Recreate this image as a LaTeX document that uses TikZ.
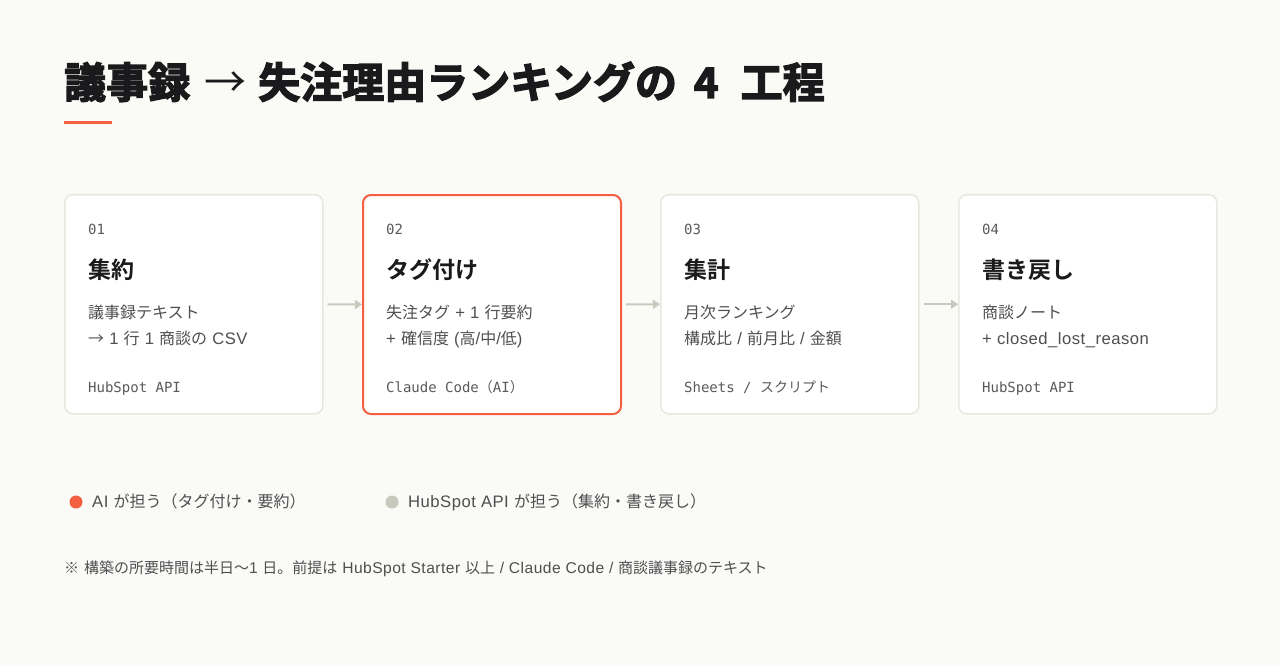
\documentclass[tikz,border=0pt]{standalone}
\usepackage{fontspec}
\setmainfont{Liberation Sans}[Scale=1.04, LetterSpace=3.0]
\newfontfamily\latf{Liberation Sans}[Scale=1.04, LetterSpace=3.0]
\newfontfamily\jpf{Noto Sans CJK JP}
\newfontfamily\jpbold{Noto Sans CJK JP}[UprightFont=* Bold]
\newfontfamily\jpheavy{Noto Sans CJK JP}[UprightFont=* Bold, FakeBold=3.2]
\newfontfamily\monof{DejaVu Sans Mono}
\usetikzlibrary{arrows.meta}
% automatic switch to the Japanese font for CJK characters
\newXeTeXintercharclass\cjkcls
\newcount\cjkc
\newcommand\cjkrange[2]{\cjkc=#1\relax
  \loop\XeTeXcharclass\cjkc=\cjkcls\relax\advance\cjkc by 1\relax
  \ifnum\cjkc<#2\relax\repeat}
\cjkrange{"2192}{"2193}
\cjkrange{"203B}{"203C}
\cjkrange{"3000}{"3100}
\cjkrange{"4E00}{"A000}
\cjkrange{"FF00}{"FFF0}
\newcommand\cjkon{\jpf}
\newcommand\cjkoff{\latf}
\newcommand\autooff{\XeTeXinterchartokenstate=0\relax}
\newcommand\monoswitch{\monof\let\cjkoff\monof}
\XeTeXinterchartoks 0 \cjkcls = {\cjkon}
\XeTeXinterchartoks 4095 \cjkcls = {\cjkon}
\XeTeXinterchartoks \cjkcls 0 = {\cjkoff}
\XeTeXinterchartoks \cjkcls 4095 = {\cjkoff}
\XeTeXinterchartokenstate=1
\definecolor{bg}{HTML}{FAFAF7}
\definecolor{titletext}{HTML}{1A1A1C}
\definecolor{accent}{HTML}{F45F42}
\definecolor{boxline}{HTML}{E8E8E1}
\definecolor{bodytext}{HTML}{4F4F52}
\definecolor{monotext}{HTML}{5A5A5E}
\definecolor{arrowc}{HTML}{C9C9BF}
\definecolor{dotgray}{HTML}{C8C8BE}
\begin{document}
\begin{tikzpicture}[x=1pt,y=-1pt,
  stepbox/.style={draw=boxline, line width=1.5pt, fill=white, rounded corners=8pt,
    minimum width=258pt, minimum height=219pt, anchor=north west, inner sep=0pt},
  hotbox/.style={stepbox, draw=accent, line width=2pt},
  numtxt/.style={anchor=base west, inner sep=0pt,
    font=\monoswitch\fontsize{14}{14}\selectfont, text=monotext},
  ttltxt/.style={anchor=base west, inner sep=0pt,
    font=\autooff\jpbold\fontsize{23}{23}\selectfont, text=titletext},
  bodytxt/.style={anchor=base west, inner sep=0pt, font=\latf\fontsize{16}{16}\selectfont, text=bodytext},
  foottxt/.style={numtxt},
  flow/.style={draw=arrowc, line width=2pt, -{Triangle[length=7pt,width=9pt]}},
  legdot/.style={circle, inner sep=0pt, minimum size=13pt},
  legtxt/.style={bodytxt},
  notetxt/.style={anchor=base west, inner sep=0pt, font=\latf\fontsize{15}{15}\selectfont, text=bodytext}
]
\fill[bg] (0,0) rectangle (1280,666);
\useasboundingbox (0,0) rectangle (1280,666);

% heading
\node[anchor=base west, inner sep=0pt, text=titletext,
  font=\autooff\jpheavy\fontsize{42}{42}\selectfont] (head) at (64,98)
  {議事録\hspace{14pt}{\jpf →}\hspace{12pt}失注理由ランキングの\hspace{17pt}4\hspace{22pt}工程};
\fill[accent] (64,121) rectangle (112,124);

% boxes
\node[stepbox] (b1) at (64,194) {};
\node[hotbox]  (b2) at (362,194) {};
\node[stepbox] (b3) at (660,194) {};
\node[stepbox] (b4) at (958,194) {};

% box 1
\node[numtxt]  (n1) at (88,234) {01};
\node[ttltxt]  (t1) at (88,278) {集約};
\node[bodytxt] (a1) at (88,318) {議事録テキスト};
\node[bodytxt] (c1) at (88,344) {→ 1 行 1 商談の CSV};
\node[foottxt] (f1) at (88,392) {HubSpot API};

% box 2
\node[numtxt]  (n2) at (386,234) {02};
\node[ttltxt]  (t2) at (386,278) {タグ付け};
\node[bodytxt] (a2) at (386,318) {失注タグ + 1 行要約};
\node[bodytxt] (c2) at (386,344) {+ 確信度 (高/中/低)};
\node[foottxt] (f2) at (386,392) {Claude Code（AI）};

% box 3
\node[numtxt]  (n3) at (684,234) {03};
\node[ttltxt]  (t3) at (684,278) {集計};
\node[bodytxt] (a3) at (684,318) {月次ランキング};
\node[bodytxt] (c3) at (684,344) {構成比 / 前月比 / 金額};
\node[foottxt] (f3) at (684,392) {Sheets / スクリプト};

% box 4
\node[numtxt]  (n4) at (982,234) {04};
\node[ttltxt]  (t4) at (982,278) {書き戻し};
\node[bodytxt] (a4) at (982,318) {商談ノート};
\node[bodytxt] (c4) at (982,344) {+ closed\_lost\_reason};
\node[foottxt] (f4) at (982,392) {HubSpot API};

% connectors
\draw[flow] ([xshift=4pt]b1.east) -- (b2.west);
\draw[flow] ([xshift=4pt]b2.east) -- (b3.west);
\draw[flow] ([xshift=4pt]b3.east) -- (b4.west);

% legend
\node[legdot, fill=accent]  (d1) at (76,502) {};
\node[legtxt] (l1) at (92,507) {AI が担う（タグ付け・要約）};
\node[legdot, fill=dotgray] (d2) at (392,502) {};
\node[legtxt] (l2) at (408,507) {HubSpot API が担う（集約・書き戻し）};

% note
\node[notetxt] (note) at (64,573) {※ 構築の所要時間は半日〜1 日。前提は HubSpot Starter 以上 / Claude Code / 商談議事録のテキスト};
\end{tikzpicture}
\end{document}
